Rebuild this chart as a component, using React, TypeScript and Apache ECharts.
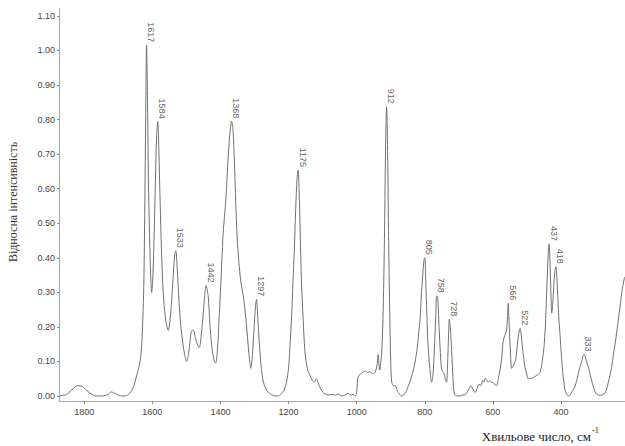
import React, { useEffect, useRef } from "react";
import * as echarts from "echarts";

// Spectrum (wavenumber, cm-1) and relative intensity
const wavenumbers = [
  1874, 1862, 1852, 1837, 1826, 1818, 1810, 1803, 1795, 1788, 1778, 1769, 1758, 1749, 1738, 1730, 1724, 1720, 1714, 1708,
  1700, 1690, 1680, 1672, 1666, 1658, 1651, 1643, 1636, 1631, 1628, 1625, 1622, 1619, 1617, 1614, 1611, 1607, 1604, 1602,
  1599, 1595, 1591, 1587, 1584, 1581, 1577, 1573, 1568, 1562, 1557, 1553, 1548, 1543, 1538, 1534, 1531, 1527, 1522, 1516,
  1510, 1505, 1499, 1494, 1489, 1484, 1479, 1474, 1468, 1462, 1457, 1452, 1447, 1442, 1436, 1431, 1425, 1419, 1414, 1409,
  1404, 1400, 1396, 1392, 1388, 1384, 1379, 1374, 1370, 1367, 1363, 1359, 1355, 1351, 1346, 1340, 1333, 1328, 1323, 1318,
  1314, 1311, 1306, 1301, 1297, 1294, 1290, 1285, 1280, 1274, 1268, 1261, 1250, 1240, 1232, 1222, 1214, 1206, 1200, 1196,
  1191, 1187, 1183, 1179, 1175, 1172, 1169, 1166, 1162, 1157, 1152, 1147, 1142, 1137, 1130, 1125, 1118, 1112, 1105, 1098,
  1090, 1080, 1070, 1062, 1055, 1048, 1040, 1032, 1025, 1018, 1010, 1004, 1000, 997, 993, 986, 980, 974, 968, 962,
  956, 951, 945, 940, 937, 934, 932, 929, 926, 922, 918, 915, 912, 909, 906, 903, 900, 897, 892, 887,
  880, 874, 868, 860, 852, 844, 836, 829, 822, 818, 814, 810, 806, 802, 800, 797, 794, 791, 787, 783,
  780, 776, 772, 768, 765, 762, 759, 755, 751, 747, 743, 740, 736, 733, 730, 728, 725, 721, 717, 713,
  706, 698, 690, 682, 675, 669, 664, 659, 652, 646, 641, 635, 630, 626, 623, 618, 614, 609, 604, 598,
  593, 589, 584, 579, 574, 570, 565, 560, 557, 555, 552, 548, 545, 541, 537, 533, 528, 524, 520, 516,
  512, 506, 501, 496, 490, 484, 477, 470, 465, 460, 455, 450, 446, 442, 438, 435, 432, 429, 427, 424,
  421, 418, 415, 412, 409, 406, 403, 399, 395, 391, 388, 383, 379, 374, 369, 364, 359, 354, 349, 344,
  339, 336, 333, 329, 325, 320, 315, 310, 305, 300, 295, 290, 284, 277, 271, 266, 261, 256, 251, 246,
  241, 237, 233, 229, 225, 222, 218, 214, 212,
];

const intensities = [
  0.0, 0.002, 0.004, 0.017, 0.027, 0.03, 0.029, 0.026, 0.018, 0.012, 0.005, 0.001, 0.0, 0.0, 0.002, 0.004, 0.01, 0.012, 0.009, 0.007,
  0.003, 0.0, 0.0, 0.003, 0.008, 0.02, 0.04, 0.07, 0.1, 0.15, 0.22, 0.32, 0.55, 0.85, 1.015, 0.85, 0.6, 0.42, 0.33, 0.3,
  0.33, 0.45, 0.62, 0.76, 0.794, 0.72, 0.56, 0.42, 0.3, 0.23, 0.2, 0.19, 0.22, 0.28, 0.36, 0.41, 0.42, 0.37, 0.28, 0.2,
  0.15, 0.12, 0.1, 0.12, 0.16, 0.19, 0.19, 0.17, 0.15, 0.14, 0.17, 0.22, 0.28, 0.32, 0.29, 0.21, 0.14, 0.105, 0.095, 0.13,
  0.22, 0.3, 0.39, 0.47, 0.52, 0.57, 0.66, 0.74, 0.78, 0.795, 0.77, 0.68, 0.56, 0.46, 0.39, 0.33, 0.29, 0.25, 0.2, 0.14,
  0.1, 0.08, 0.12, 0.2, 0.26, 0.28, 0.22, 0.14, 0.08, 0.04, 0.025, 0.012, 0.004, 0.0, 0.0, 0.005, 0.015, 0.04, 0.08, 0.14,
  0.23, 0.33, 0.42, 0.54, 0.63, 0.654, 0.6, 0.48, 0.33, 0.22, 0.13, 0.09, 0.07, 0.06, 0.045, 0.04, 0.05, 0.035, 0.02, 0.01,
  0.005, 0.003, 0.005, 0.002, 0.006, 0.002, 0.0, 0.004, 0.008, 0.002, 0.005, 0.0, 0.01, 0.05, 0.06, 0.065, 0.07, 0.072, 0.068, 0.07,
  0.066, 0.065, 0.07, 0.09, 0.12, 0.09, 0.075, 0.1, 0.13, 0.25, 0.48, 0.72, 0.837, 0.7, 0.45, 0.25, 0.1, 0.04, 0.03, 0.03,
  0.015, 0.005, 0.0, 0.005, 0.02, 0.04, 0.065, 0.095, 0.14, 0.18, 0.22, 0.29, 0.35, 0.395, 0.4, 0.33, 0.24, 0.16, 0.1, 0.06,
  0.04, 0.06, 0.13, 0.22, 0.29, 0.285, 0.22, 0.14, 0.08, 0.07, 0.065, 0.05, 0.04, 0.09, 0.18, 0.222, 0.2, 0.13, 0.05, 0.005,
  0.0, 0.0, 0.003, 0.003, 0.012, 0.022, 0.03, 0.02, 0.01, 0.022, 0.034, 0.03, 0.045, 0.04, 0.05, 0.047, 0.04, 0.044, 0.04, 0.038,
  0.032, 0.03, 0.05, 0.075, 0.11, 0.157, 0.175, 0.19, 0.23, 0.268, 0.2, 0.12, 0.08, 0.085, 0.095, 0.104, 0.15, 0.18, 0.196, 0.17,
  0.13, 0.085, 0.065, 0.05, 0.05, 0.052, 0.056, 0.06, 0.065, 0.072, 0.1, 0.14, 0.2, 0.3, 0.4, 0.44, 0.38, 0.28, 0.24, 0.27,
  0.32, 0.36, 0.374, 0.34, 0.28, 0.22, 0.18, 0.12, 0.07, 0.035, 0.017, 0.005, 0.0, 0.002, 0.01, 0.018, 0.027, 0.045, 0.065, 0.085,
  0.1, 0.113, 0.12, 0.115, 0.1, 0.085, 0.065, 0.045, 0.027, 0.012, 0.005, 0.003, 0.002, 0.004, 0.008, 0.02, 0.04, 0.06, 0.085, 0.12,
  0.15, 0.18, 0.21, 0.24, 0.27, 0.297, 0.32, 0.34, 0.345,
];

// Annotated peaks: position on the curve and the printed label
const peakPositions = [1617, 1584, 1531, 1442, 1367, 1294, 1172, 912, 800, 765, 728, 555, 520, 435, 415, 333];
const peakValues = [1.015, 0.794, 0.42, 0.32, 0.795, 0.28, 0.654, 0.837, 0.4, 0.29, 0.222, 0.268, 0.196, 0.44, 0.374, 0.12];
const peakLabels = ["1617", "1584", "1533", "1442", "1368", "1297", "1175", "912", "805", "758", "728", "566", "522", "437", "418", "333"];

const xTicks = [1800, 1600, 1400, 1200, 1000, 800, 600, 400];
const yTicks = [0, 0.1, 0.2, 0.3, 0.4, 0.5, 0.6, 0.7, 0.8, 0.9, 1.0, 1.1];

const yTitle = "Відносна інтенсивність";
const xTitle = "Хвильове число, см";

export default function App() {
  const ref = useRef<HTMLDivElement>(null);

  useEffect(() => {
    if (!ref.current) return;
    const chart = echarts.init(ref.current, undefined, { renderer: "svg" });
    const lineData = wavenumbers.map((w, i) => [w, intensities[i]]);
    const peakData = peakPositions.map((w, i) => [w, peakValues[i], peakLabels[i]]);
    const axisFont = "'Liberation Sans', Arial, sans-serif";

    chart.setOption({
      animation: false,
      backgroundColor: "#ffffff",
      grid: { left: 59, right: 0, top: 9, bottom: 45, outerBoundsMode: "none" },
      xAxis: {
        type: "value",
        inverse: true,
        min: 212,
        max: 1874,
        axisLine: { show: true, onZero: false, lineStyle: { color: "#a8a8a8", width: 1 } },
        axisTick: { show: true, customValues: xTicks, length: 3, lineStyle: { color: "#888" } },
        axisLabel: {
          customValues: xTicks,
          formatter: (v: number) => String(v),
          color: "#444",
          fontSize: 9,
          fontFamily: axisFont,
          margin: 6,
        },
        splitLine: { show: false },
      },
      yAxis: {
        type: "value",
        min: -0.0145,
        max: 1.12,
        axisLine: { show: true, onZero: false, lineStyle: { color: "#a8a8a8", width: 1 } },
        axisTick: { show: true, customValues: yTicks, length: 2, lineStyle: { color: "#888" } },
        axisLabel: {
          customValues: yTicks,
          formatter: (v: number) => v.toFixed(2),
          color: "#444",
          fontSize: 9,
          fontFamily: axisFont,
          margin: 4,
        },
        splitLine: { show: false },
      },
      series: [
        {
          type: "line",
          data: lineData,
          showSymbol: false,
          smooth: 0.3,
          lineStyle: { color: "#707070", width: 1 },
          z: 2,
        },
        {
          type: "scatter",
          data: peakData,
          symbolSize: 0,
          silent: true,
          label: {
            show: true,
            position: "top",
            distance: 3,
            rotate: -90,
            align: "right",
            verticalAlign: "bottom",
            formatter: (p: any) => p.data[2],
            color: "#333",
            fontSize: 9,
            fontFamily: axisFont,
          },
          z: 3,
        },
      ],
      graphic: [
        {
          type: "text",
          x: 13,
          y: 202,
          rotation: Math.PI / 2,
          style: {
            text: yTitle,
            font: "12px 'Liberation Serif', 'Times New Roman', serif",
            fill: "#333",
            align: "center",
            verticalAlign: "middle",
          },
        },
        {
          type: "text",
          x: 591,
          y: 436,
          style: {
            text: xTitle,
            font: "13px 'Liberation Serif', 'Times New Roman', serif",
            fill: "#222",
            align: "right",
            verticalAlign: "middle",
          },
        },
        {
          type: "text",
          x: 592,
          y: 430,
          style: {
            text: "-1",
            font: "8px 'Liberation Serif', 'Times New Roman', serif",
            fill: "#222",
            align: "left",
            verticalAlign: "middle",
          },
        },
      ],
    });

    return () => chart.dispose();
  }, []);

  return (
    <div
      ref={ref}
      style={{ position: "fixed", left: 0, top: 0, width: 625, height: 446, background: "#fff" }}
    />
  );
}
